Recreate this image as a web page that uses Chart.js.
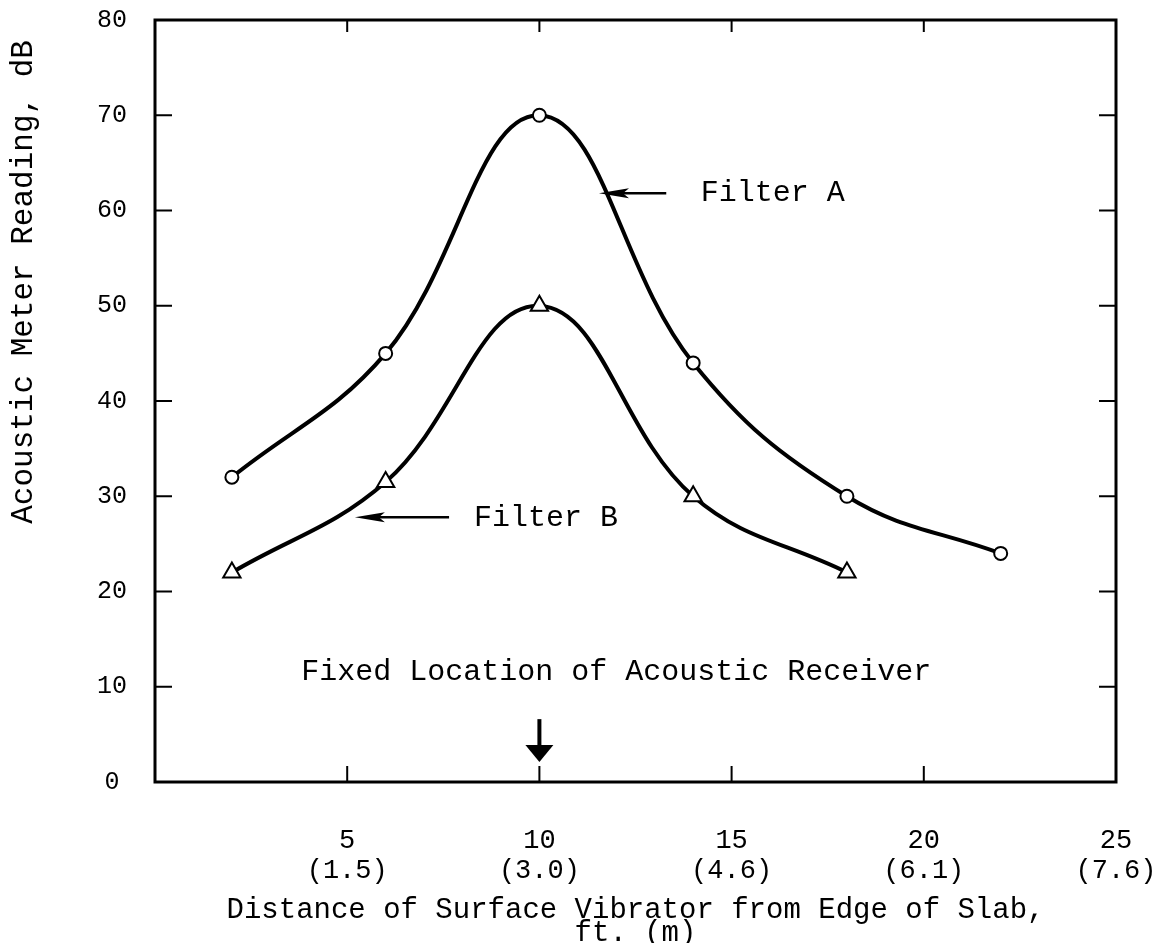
<!DOCTYPE html>
<html>
<head>
<meta charset="utf-8">
<script src="https://cdn.jsdelivr.net/npm/chart.js@4"></script>
<style>
  body { margin: 0; background: #fff; }
  #wrap { width: 1169px; height: 943px; }
</style>
</head>
<body>
<div id="wrap"><canvas id="chart" width="1169" height="943"></canvas></div>
<script>
// values
const distanceA = [2, 6, 10, 14, 18, 22];
const filterA = [32, 45, 70, 44, 30, 24];
const distanceB = [2, 6, 10, 14, 18];
const filterB = [22, 31.5, 50, 30, 22];
const xTickFeet = [5, 10, 15, 20, 25];
const xTickMetres = ['(1.5)', '(3.0)', '(4.6)', '(6.1)', '(7.6)'];
const yTicks = [0, 10, 20, 30, 40, 50, 60, 70, 80];

const MONO = '"Liberation Mono", "DejaVu Sans Mono", monospace';

// box round the plot with inward tick marks
const frame = {
  id: 'frame',
  beforeDatasetsDraw(chart) {
    const { ctx, chartArea: a, scales: { x, y } } = chart;
    ctx.save();
    ctx.strokeStyle = '#000';
    ctx.lineWidth = 3;
    ctx.strokeRect(a.left, a.top, a.right - a.left, a.bottom - a.top);
    ctx.lineWidth = 2;
    ctx.beginPath();
    x.ticks.forEach(t => {
      if (t.value <= 0 || t.value >= 25) return;
      const px = x.getPixelForValue(t.value);
      ctx.moveTo(px, a.bottom); ctx.lineTo(px, a.bottom - 16);
      ctx.moveTo(px, a.top); ctx.lineTo(px, a.top + 12);
    });
    y.ticks.forEach(t => {
      if (t.value <= 0 || t.value >= 80) return;
      const py = y.getPixelForValue(t.value);
      ctx.moveTo(a.left, py); ctx.lineTo(a.left + 17, py);
      ctx.moveTo(a.right, py); ctx.lineTo(a.right - 17, py);
    });
    ctx.stroke();
    ctx.restore();
  }
};

function arrowLeft(ctx, x0, x1, py) {
  ctx.lineWidth = 2.5;
  ctx.beginPath();
  ctx.moveTo(x0, py); ctx.lineTo(x1 + 20, py);
  ctx.stroke();
  ctx.beginPath();
  ctx.moveTo(x1, py);
  ctx.lineTo(x1 + 30, py - 5);
  ctx.lineTo(x1 + 24, py);
  ctx.lineTo(x1 + 30, py + 5);
  ctx.closePath();
  ctx.fill();
}

// labels, arrows and the y axis title
const notes = {
  id: 'notes',
  afterDatasetsDraw(chart) {
    const { ctx, scales: { x, y } } = chart;
    ctx.save();
    ctx.fillStyle = '#000';
    ctx.strokeStyle = '#000';
    ctx.font = '30px ' + MONO;
    ctx.textBaseline = 'middle';

    ctx.textAlign = 'left';
    ctx.fillText('Filter A', x.getPixelForValue(14.2), y.getPixelForValue(61.8));
    arrowLeft(ctx, x.getPixelForValue(13.3), x.getPixelForValue(11.55), y.getPixelForValue(61.8));

    ctx.fillText('Filter B', x.getPixelForValue(8.3), y.getPixelForValue(27.7));
    arrowLeft(ctx, x.getPixelForValue(7.65), x.getPixelForValue(5.2), y.getPixelForValue(27.8));

    ctx.textAlign = 'center';
    ctx.fillText('Fixed Location of Acoustic Receiver', x.getPixelForValue(12), y.getPixelForValue(11.5));

    // receiver marker
    const ax = x.getPixelForValue(10);
    const top = y.getPixelForValue(6.6), tip = y.getPixelForValue(2.1);
    ctx.lineWidth = 4;
    ctx.beginPath();
    ctx.moveTo(ax, top); ctx.lineTo(ax, tip - 12);
    ctx.stroke();
    ctx.beginPath();
    ctx.moveTo(ax - 14, tip - 17);
    ctx.lineTo(ax + 14, tip - 17);
    ctx.lineTo(ax, tip);
    ctx.closePath();
    ctx.fill();

    // y axis title sits higher than the plot centre
    ctx.translate(24, y.getPixelForValue(52.5));
    ctx.rotate(-Math.PI / 2);
    ctx.font = '31px ' + MONO;
    ctx.fillText('Acoustic Meter Reading, dB', 0, 0);
    ctx.restore();
  }
};

const toPoints = (xs, ys) => xs.map((v, i) => ({ x: v, y: ys[i] }));

new Chart(document.getElementById('chart'), {
  type: 'line',
  data: {
    datasets: [
      {
        label: 'Filter A',
        data: toPoints(distanceA, filterA),
        borderColor: '#000',
        borderWidth: 4,
        tension: 0.4,
        pointStyle: 'circle',
        pointRadius: 6.5,
        pointBorderWidth: 2,
        pointBackgroundColor: '#fff',
        pointBorderColor: '#000',
        clip: false
      },
      {
        label: 'Filter B',
        data: toPoints(distanceB, filterB),
        borderColor: '#000',
        borderWidth: 4,
        tension: 0.4,
        pointStyle: 'triangle',
        pointRadius: 10,
        pointBorderWidth: 2,
        pointBackgroundColor: '#fff',
        pointBorderColor: '#000',
        clip: false
      }
    ]
  },
  options: {
    responsive: false,
    animation: false,
    devicePixelRatio: 1,
    layout: { padding: { top: 20, right: 53, bottom: 0, left: 0 } },
    plugins: {
      legend: { display: false },
      tooltip: { enabled: false }
    },
    scales: {
      x: {
        type: 'linear',
        min: 0,
        max: 25,
        afterBuildTicks: s => { s.ticks = [0].concat(xTickFeet).map(v => ({ value: v })); },
        afterFit: s => { s.height = 161; s.paddingLeft = 0; s.paddingRight = 0; },
        grid: { display: false, drawTicks: false },
        border: { display: false },
        ticks: {
          padding: 44,
          maxRotation: 0,
          autoSkip: false,
          color: '#000',
          font: { family: MONO, size: 27, lineHeight: 1.1 },
          callback: v => {
            const i = xTickFeet.indexOf(v);
            return i < 0 ? '' : [String(v), xTickMetres[i]];
          }
        },
        title: {
          display: true,
          text: ['Distance of Surface Vibrator from Edge of Slab,', 'ft. (m)'],
          color: '#000',
          font: { family: MONO, size: 29, lineHeight: '23px' },
          padding: { top: 0, bottom: -2 }
        }
      },
      y: {
        min: 0,
        max: 80,
        afterBuildTicks: s => { s.ticks = yTicks.map(v => ({ value: v })); },
        afterFit: s => { s.width = 155; s.paddingTop = 0; s.paddingBottom = 0; },
        grid: { display: false, drawTicks: false },
        border: { display: false },
        ticks: {
          padding: 28,
          crossAlign: 'center',
          color: '#000',
          font: { family: MONO, size: 25 }
        }
      }
    }
  },
  plugins: [frame, notes]
});
</script>
</body>
</html>
